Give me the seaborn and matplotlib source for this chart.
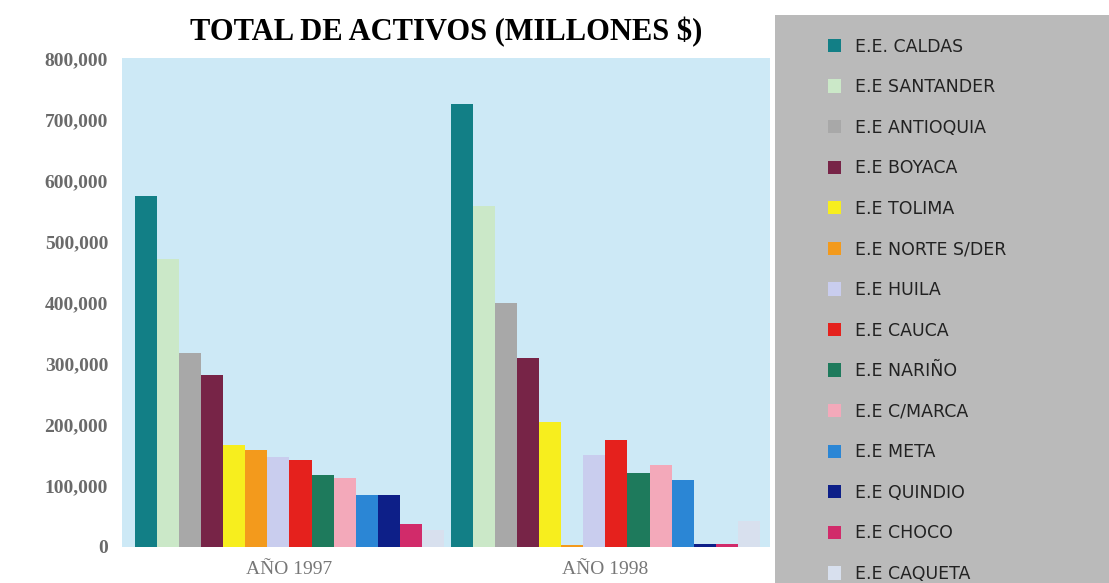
#!/usr/bin/env python
"""
Total de activos (millones $) por empresa de energia, 1997 y 1998.
"""
# Third-party
import matplotlib

matplotlib.use("Agg")
import matplotlib.pyplot as plt
import matplotlib.ticker as ticker
import pandas as pd
import seaborn as sns

# Data
COMPANIES = [
    "E.E. CALDAS",
    "E.E SANTANDER",
    "E.E ANTIOQUIA",
    "E.E BOYACA",
    "E.E TOLIMA",
    "E.E NORTE S/DER",
    "E.E HUILA",
    "E.E CAUCA",
    "E.E NARIÑO",
    "E.E C/MARCA",
    "E.E META",
    "E.E QUINDIO",
    "E.E CHOCO",
    "E.E CAQUETA",
]
YEARS = ["AÑO 1997", "AÑO 1998"]
VALUES_1997 = [
    575000, 472000, 317000, 281000, 167000, 158000, 147000,
    142000, 118000, 113000, 85000, 85000, 38000, 28000,
]
VALUES_1998 = [
    725000, 558000, 400000, 309000, 204000, 3000, 150000,
    175000, 121000, 134000, 109000, 4000, 4000, 42000,
]
COLORS = [
    "#127f86", "#cbe8c8", "#a8a8a8", "#772447", "#f7ee1e", "#f39a1c",
    "#c9cdee", "#e5211d", "#1e7a5c", "#f3a9ba", "#2b86d5", "#0d1f88",
    "#d12b6a", "#d8e0ee",
]
Y_TICKS = [0, 100000, 200000, 300000, 400000, 500000, 600000, 700000, 800000]

data = pd.DataFrame(
    {
        "Empresa": COMPANIES * 2,
        "Año": [YEARS[0]] * len(COMPANIES) + [YEARS[1]] * len(COMPANIES),
        "Activos": VALUES_1997 + VALUES_1998,
    }
)

fig = plt.figure(figsize=(11.09, 5.83), dpi=100)
ax = fig.add_axes([0.110, 0.062, 0.584, 0.838])
ax.set_facecolor("#cde9f6")

sns.barplot(
    data,
    x="Año",
    y="Activos",
    hue="Empresa",
    hue_order=COMPANIES,
    palette=COLORS,
    saturation=1,
    width=0.98,
    linewidth=0,
    ax=ax,
)

ax.set_ylim(0, 800000)
ax.set_xlim(-0.53, 1.52)
ax.set_yticks(Y_TICKS)
ax.yaxis.set_major_formatter(
    ticker.FuncFormatter(lambda x, pos: f"{int(x):,d}")
)
for spine in ax.spines.values():
    spine.set_visible(False)
ax.tick_params(length=0, pad=10)
for label in ax.get_yticklabels():
    label.set_fontfamily("Liberation Serif")
    label.set_fontweight("bold")
    label.set_fontsize(14)
    label.set_color("#6a6a6a")
for label in ax.get_xticklabels():
    label.set_fontfamily("Liberation Serif")
    label.set_fontsize(14)
    label.set_color("#777777")
ax.set_xlabel("")
ax.set_ylabel("")

handles, labels = ax.get_legend_handles_labels()
ax.get_legend().remove()

# Gray legend panel on the right
lax = fig.add_axes([0.699, 0.0, 0.301, 0.974])
lax.set_facecolor("#bababa")
lax.set_xticks([])
lax.set_yticks([])
for spine in lax.spines.values():
    spine.set_visible(False)
lax.legend(
    handles,
    labels,
    loc="upper left",
    bbox_to_anchor=(0.11, 0.988),
    frameon=False,
    handlelength=0.8,
    handleheight=0.8,
    handletextpad=0.8,
    labelspacing=1.3,
    prop={"family": "DejaVu Sans", "size": 12.5},
    labelcolor="#222222",
)

fig.text(
    0.402,
    0.945,
    "TOTAL DE ACTIVOS (MILLONES $)",
    ha="center",
    va="center",
    fontfamily="Liberation Serif",
    fontweight="bold",
    fontsize=22,
)

fig.savefig("out.png", dpi=100)
